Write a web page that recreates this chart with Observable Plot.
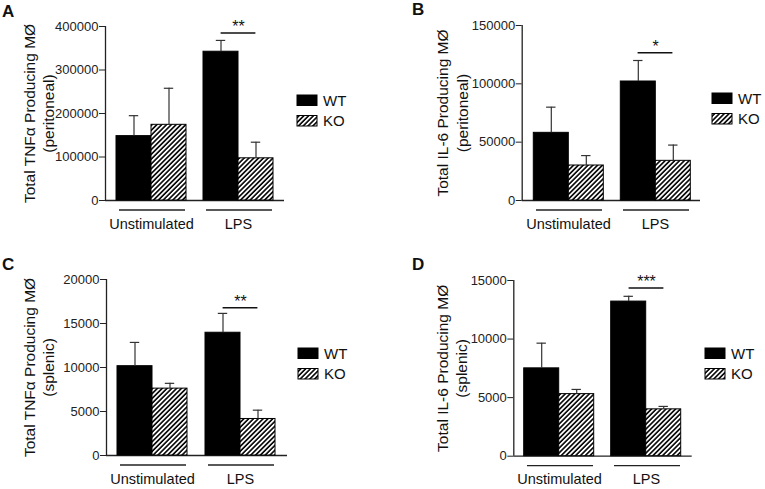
<!DOCTYPE html>
<html>
<head>
<meta charset="utf-8">
<script src="https://cdn.jsdelivr.net/npm/d3@7"></script>
<script src="https://cdn.jsdelivr.net/npm/@observablehq/plot@0.6"></script>
<style>
  body { margin: 0; background: #fff; }
  #root { position: relative; width: 765px; height: 489px; overflow: hidden; background: #fff;
          font-family: "Liberation Sans", Arial, sans-serif; }
  #root svg { position: absolute; }
</style>
</head>
<body>
<div id="root"></div>
<script>
// ---------- data ----------
const groups = ["Unstimulated", "LPS"];
const genotypes = ["WT", "KO"];
const panelLetters = ["A", "B", "C", "D"];
const titleLine1 = ["Total TNFα Producing MØ", "Total IL-6 Producing MØ", "Total TNFα Producing MØ", "Total IL-6 Producing MØ"];
const titleLine2 = ["(peritoneal)", "(peritoneal)", "(splenic)", "(splenic)"];
const yTicksA = [0, 100000, 200000, 300000, 400000];
const yTicksB = [0, 50000, 100000, 150000];
const yTicksC = [0, 5000, 10000, 15000, 20000];
const yTicksD = [0, 5000, 10000, 15000];
// order: Unstimulated WT, Unstimulated KO, LPS WT, LPS KO
const meanA = [148000, 174000, 342000, 97000];
const semA  = [47000, 84000, 26000, 37000];
const meanB = [58000, 30000, 102000, 34000];
const semB  = [22000, 8500, 18000, 13500];
const meanC = [10150, 7600, 13950, 4150];
const semC  = [2700, 600, 2200, 1000];
const meanD = [7500, 5300, 13200, 4000];
const semD  = [2150, 400, 450, 250];
const sigGroup = ["LPS", "LPS", "LPS", "LPS"];
const sigLevel = [385000, 126600, 16800, 14350];
const sigLabel = ["**", "*", "**", "***"];

// ---------- styles / layout ----------
const fills = ["black", "url(#hatchPat)"];
const layout = [
  {left: 0,   top: 0,   width: 380, height: 245, mL: 105,   mR: 96,   mT: 26, mB: 45,   t1: 30, t2: 49,   leg: [297, 95],  letter: [2, 17]},
  {left: 380, top: 0,   width: 385, height: 245, mL: 141.7, mR: 65,   mT: 25, mB: 45,   t1: 63, t2: 82.5, leg: [712, 93],  letter: [412, 15]},
  {left: 0,   top: 245, width: 380, height: 244, mL: 106,   mR: 93,   mT: 34, mB: 34,   t1: 30, t2: 49,   leg: [298, 348], letter: [2, 270]},
  {left: 380, top: 245, width: 385, height: 244, mL: 133.3, mR: 73.3, mT: 35, mB: 33.3, t1: 63, t2: 81.5, leg: [705, 348], letter: [412, 270]}
];
const FONT = "Liberation Sans, Arial, sans-serif";

const root = d3.select("#root");

// defs (hatch pattern)
const defsSvg = root.append("svg").attr("width", 0).attr("height", 0).style("left", 0).style("top", 0);
const pat = defsSvg.append("defs").append("pattern")
  .attr("id", "hatchPat").attr("patternUnits", "userSpaceOnUse")
  .attr("width", 3.4).attr("height", 3.4).attr("patternTransform", "rotate(45)");
pat.append("rect").attr("width", 3.4).attr("height", 3.4).attr("fill", "white");
pat.append("line").attr("x1", 0.9).attr("y1", -1).attr("x2", 0.9).attr("y2", 4.4)
  .attr("stroke", "black").attr("stroke-width", 1.6);

const means = [meanA, meanB, meanC, meanD];
const sems = [semA, semB, semC, semD];
const yTicks = [yTicksA, yTicksB, yTicksC, yTicksD];

layout.forEach((L, p) => {
  const rows = [];
  groups.forEach((g, gi) => genotypes.forEach((k, ki) => {
    const i = gi * genotypes.length + ki;
    rows.push({group: g, genotype: k, mean: means[p][i], sem: sems[p][i]});
  }));
  const sig = [{group: sigGroup[p], level: sigLevel[p], label: sigLabel[p]}];
  const yDomain = [0, d3.max(yTicks[p])];
  const common = {
    width: L.width, height: L.height,
    marginLeft: L.mL, marginRight: L.mR, marginTop: L.mT, marginBottom: L.mB
  };

  const axes = Plot.plot({
    ...common,
    style: {background: "transparent", fontFamily: FONT, fontSize: "13px", color: "#222"},
    x: {domain: [0, 1], axis: null},
    y: {domain: yDomain, ticks: yTicks[p], tickFormat: d3.format("d"), tickSize: 6, tickPadding: 1, label: null},
    marks: [
      Plot.ruleX([0], {y1: 0, y2: yDomain[1], stroke: "#222", strokeWidth: 1.3}),
      Plot.ruleY([0], {stroke: "#222", strokeWidth: 1.3}),
      Plot.text([titleLine1[p]], {text: d => d, frameAnchor: "left", textAnchor: "middle", lineAnchor: "middle", rotate: -90, dx: L.t1 - L.mL, fontSize: 15.5, fill: "#111"}),
      Plot.text([titleLine2[p]], {text: d => d, frameAnchor: "left", textAnchor: "middle", lineAnchor: "middle", rotate: -90, dx: L.t2 - L.mL, fontSize: 15.5, fill: "#111"})
    ]
  });

  const bars = Plot.plot({
    ...common,
    style: {background: "transparent", fontFamily: FONT, fontSize: "14.5px", color: "#111"},
    x: {domain: genotypes, padding: 0, axis: null},
    fx: {domain: groups, paddingInner: 0.2, paddingOuter: 0.12, axis: "bottom", tickSize: 0, tickPadding: 18, label: null},
    y: {domain: yDomain, axis: null},
    color: {domain: genotypes, range: fills},
    marks: [
      Plot.barY(rows, {fx: "group", x: "genotype", y: "mean", fill: "genotype", stroke: "black", strokeWidth: 1}),
      Plot.ruleX(rows, {fx: "group", x: "genotype", y1: "mean", y2: d => d.mean + d.sem, stroke: "#333", strokeWidth: 1.2}),
      Plot.tickY(rows, {fx: "group", x: "genotype", y: d => d.mean + d.sem, insetLeft: 12.8, insetRight: 12.8, stroke: "#333", strokeWidth: 1.2}),
      Plot.ruleY([0], {dy: 9.5, insetLeft: 3, insetRight: 1, stroke: "#222", strokeWidth: 1.3}),
      Plot.ruleY(sig, {fx: "group", y: "level", insetLeft: 17.6, insetRight: 17.6, stroke: "#111", strokeWidth: 1.5}),
      Plot.text(sig, {fx: "group", y: "level", text: "label", lineAnchor: "bottom", dy: -1, fontSize: 16, fill: "#111"})
    ]
  });

  for (const svg of [axes, bars]) {
    svg.style.left = L.left + "px";
    svg.style.top = L.top + "px";
    root.node().appendChild(svg);
  }
});

// decorations: panel letters and legends
const deco = root.append("svg").attr("width", 765).attr("height", 489)
  .style("left", 0).style("top", 0).style("pointer-events", "none");
layout.forEach((L, p) => {
  deco.append("text").attr("x", L.letter[0]).attr("y", L.letter[1])
    .attr("font-family", FONT).attr("font-weight", "bold").attr("font-size", 17).attr("fill", "#111")
    .text(panelLetters[p]);
  genotypes.forEach((k, ki) => {
    const y = L.leg[1] + ki * 20.5;
    deco.append("rect").attr("x", L.leg[0]).attr("y", y).attr("width", 20).attr("height", 10.5)
      .attr("fill", fills[ki]).attr("stroke", "black").attr("stroke-width", 1);
    deco.append("text").attr("x", L.leg[0] + 26).attr("y", y + 5.25).attr("dy", "0.36em")
      .attr("font-family", FONT).attr("font-size", 15).attr("fill", "#111").text(k);
  });
});
</script>
</body>
</html>
